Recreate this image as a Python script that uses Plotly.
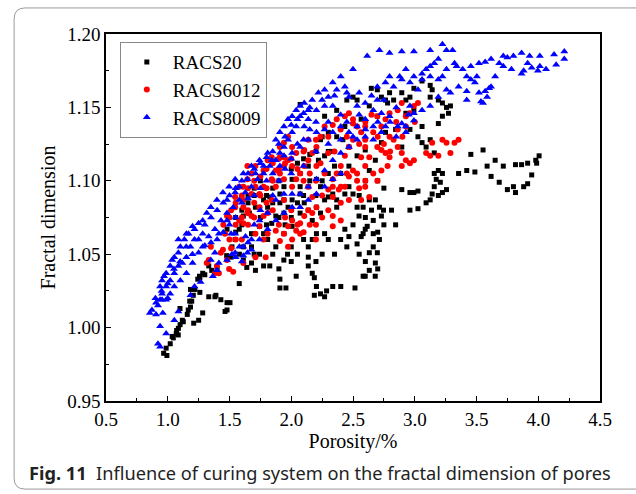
import plotly.graph_objects as go

# porosity (%) , fractal dimension
racs20 = [
    (0.967, 0.9825), (0.993, 0.981), (0.987, 0.986), (1.02, 0.989), (1.036, 0.994), (1.069, 0.996),
    (1.086, 0.9995), (1.10, 1.002), (1.118, 1.005), (1.158, 1.009), (1.184, 1.014), (1.178, 1.018),
    (1.21, 1.003), (1.25, 1.005), (1.283, 1.01), (1.257, 1.035), (1.283, 1.037), (1.332, 1.021),
    (1.382, 1.021), (1.43, 1.019), (1.48, 1.017), (1.48, 1.012), (1.464, 1.011), (1.579, 1.03),
    (1.184, 1.026), (1.243, 1.033), (1.332, 1.042), (1.045, 0.993), (1.085, 0.995), (1.072, 0.998),
    (1.126, 1.004), (1.166, 1.012), (1.194, 1.018), (1.207, 1.022), (1.22, 1.026), (1.26, 1.024),
    (1.26, 1.034), (1.30, 1.036), (1.356, 1.039), (1.40, 1.04), (1.477, 1.049), (1.64, 1.041),
    (1.099, 1.013), (1.504, 1.017), (1.39, 1.022),
    (1.612, 1.055), (1.678, 1.044), (1.71, 1.039), (1.776, 1.042), (1.826, 1.042), (1.908, 1.033),
    (1.908, 1.027), (1.957, 1.027), (2.04, 1.035), (1.94, 1.046), (1.97, 1.05), (2.0, 1.055),
    (2.138, 1.055), (2.17, 1.06), (2.204, 1.064), (2.27, 1.064), (2.138, 1.048), (2.138, 1.042),
    (2.17, 1.037), (2.187, 1.034), (2.204, 1.028), (2.187, 1.022), (2.237, 1.023), (2.27, 1.021),
    (2.286, 1.025), (2.336, 1.028), (2.401, 1.028), (2.516, 1.027), (2.582, 1.035), (2.632, 1.039),
    (2.681, 1.044), (2.697, 1.051), (2.714, 1.06), (2.664, 1.064), (2.599, 1.067), (2.566, 1.062),
    (2.533, 1.057), (2.549, 1.076), (2.582, 1.082), (2.632, 1.087), (2.681, 1.087), (2.714, 1.082),
    (2.747, 1.08), (2.73, 1.076), (2.664, 1.073), (2.615, 1.069), (2.664, 1.055), (2.632, 1.051),
    (2.582, 1.064), (2.533, 1.082), (2.5, 1.091), (2.467, 1.096), (2.434, 1.091), (2.368, 1.087),
    (2.27, 1.087), (2.237, 1.096), (2.204, 1.101), (2.138, 1.096), (2.072, 1.096), (2.072, 1.091),
    (2.007, 1.087), (1.974, 1.082), (1.941, 1.078), (1.875, 1.076), (1.842, 1.071), (1.776, 1.064),
    (1.743, 1.069), (1.678, 1.064), (1.661, 1.078), (1.71, 1.082), (1.776, 1.087), (1.826, 1.089),
    (1.908, 1.091), (1.941, 1.096), (2.007, 1.101), (2.072, 1.105), (2.138, 1.11), (2.22, 1.114),
    (2.27, 1.117), (2.336, 1.12), (1.612, 1.076), (1.579, 1.067), (1.546, 1.06), (1.513, 1.048),
    (1.612, 1.046), (1.743, 1.05), (1.875, 1.055), (1.941, 1.064), (2.007, 1.069), (2.072, 1.078),
    (2.105, 1.085), (1.809, 1.06), (1.678, 1.055), (1.48, 1.067), (1.809, 1.082), (1.908, 1.085),
    (1.941, 1.087), (2.138, 1.08), (2.204, 1.082), (2.17, 1.073), (2.237, 1.078), (2.30, 1.089),
    (2.336, 1.091), (2.599, 1.035), (2.434, 1.067), (2.467, 1.062), (2.368, 1.082),
    (1.55, 1.065), (1.60, 1.07), (1.65, 1.085), (1.70, 1.09), (1.75, 1.075), (1.80, 1.07),
    (1.85, 1.085), (1.90, 1.075), (1.95, 1.07), (2.00, 1.075), (2.05, 1.085), (2.10, 1.09),
    (2.15, 1.10), (2.20, 1.09), (2.25, 1.10), (2.30, 1.105), (2.35, 1.11), (2.40, 1.105),
    (2.30, 1.12), (2.25, 1.13), (2.20, 1.12), (2.15, 1.118), (2.10, 1.115), (2.05, 1.112),
    (2.00, 1.108), (1.90, 1.10), (1.85, 1.095), (1.80, 1.09), (1.75, 1.10), (1.70, 1.095),
    (1.65, 1.09), (1.60, 1.08), (1.55, 1.075), (1.52, 1.055), (1.58, 1.05), (1.70, 1.05),
    (1.85, 1.05), (1.90, 1.04), (2.00, 1.045), (2.05, 1.05), (2.10, 1.06), (2.20, 1.045),
    (2.25, 1.05), (2.30, 1.06), (2.35, 1.05), (2.45, 1.055), (2.40, 1.06), (2.50, 1.07),
    (2.55, 1.09), (2.60, 1.10), (2.70, 1.10), (2.75, 1.095), (2.70, 1.065), (2.75, 1.07),
    (2.60, 1.075), (2.65, 1.08), (2.55, 1.05), (2.60, 1.045), (2.70, 1.04), (2.68, 1.035),
    (2.072, 1.152), (2.27, 1.144), (2.368, 1.148), (2.45, 1.155), (2.5, 1.157), (2.533, 1.155),
    (2.632, 1.151), (2.648, 1.163), (2.697, 1.162), (2.73, 1.157), (2.763, 1.155), (2.796, 1.16),
    (2.78, 1.153), (2.829, 1.155), (2.895, 1.16), (2.928, 1.155), (2.961, 1.157), (2.993, 1.163),
    (3.059, 1.168), (3.125, 1.165), (3.141, 1.162), (3.191, 1.155), (3.224, 1.153), (3.257, 1.15),
    (3.289, 1.151), (3.273, 1.146), (3.191, 1.139), (3.224, 1.144), (3.059, 1.137), (3.026, 1.13),
    (3.092, 1.123), (3.125, 1.128), (3.059, 1.126), (3.158, 1.119), (2.961, 1.135), (2.895, 1.123),
    (2.845, 1.135), (2.763, 1.133), (2.73, 1.126), (2.681, 1.114), (2.632, 1.107), (2.599, 1.121),
    (2.533, 1.117), (2.467, 1.11), (2.467, 1.123), (2.418, 1.128), (2.368, 1.13), (2.30, 1.133),
    (2.237, 1.128), (2.434, 1.137), (2.566, 1.142), (2.697, 1.144), (2.928, 1.146), (2.993, 1.148),
    (3.125, 1.157),
    (2.845, 1.07), (2.812, 1.08), (2.895, 1.094), (2.961, 1.092), (2.993, 1.092), (3.026, 1.093),
    (2.961, 1.08), (3.026, 1.081), (3.092, 1.085), (3.125, 1.087), (3.141, 1.091), (3.158, 1.096),
    (3.174, 1.101), (3.158, 1.105), (3.191, 1.107), (3.224, 1.105), (3.207, 1.099), (3.257, 1.094),
    (3.191, 1.09), (3.224, 1.092),
    (3.355, 1.105), (3.421, 1.107), (3.487, 1.106), (3.454, 1.118), (3.553, 1.121), (3.586, 1.11),
    (3.618, 1.103), (3.651, 1.114), (3.717, 1.11), (3.684, 1.099), (3.75, 1.094), (3.816, 1.092),
    (3.799, 1.096), (3.816, 1.111), (3.865, 1.111), (3.914, 1.112), (3.947, 1.104), (3.914, 1.098),
    (3.882, 1.096), (3.98, 1.114), (4.007, 1.117), (3.987, 1.112),
]

racs6012 = [
    (1.316, 1.044), (1.332, 1.046), (1.349, 1.055), (1.382, 1.037), (1.414, 1.037), (1.497, 1.04),
    (1.53, 1.038), (1.612, 1.044), (1.71, 1.048), (1.793, 1.048), (1.447, 1.053), (1.513, 1.054),
    (1.464, 1.064), (1.48, 1.076), (1.513, 1.08), (1.546, 1.082), (1.579, 1.073), (1.612, 1.087),
    (1.612, 1.096), (1.645, 1.101), (1.678, 1.105), (1.71, 1.096), (1.743, 1.091), (1.776, 1.096),
    (1.743, 1.082), (1.776, 1.076), (1.809, 1.078), (1.842, 1.087), (1.875, 1.096), (1.908, 1.105),
    (1.941, 1.11), (1.974, 1.114), (1.908, 1.116), (1.842, 1.116), (1.809, 1.114), (1.776, 1.107),
    (1.71, 1.11), (1.645, 1.11), (1.678, 1.091), (1.612, 1.082), (1.546, 1.089), (1.579, 1.096),
    (1.875, 1.066), (1.908, 1.059), (1.941, 1.064), (1.974, 1.069), (2.007, 1.073), (2.04, 1.066),
    (2.072, 1.071), (2.105, 1.076), (2.138, 1.08), (2.17, 1.078), (2.204, 1.082), (2.072, 1.064),
    (2.007, 1.06), (1.974, 1.055), (1.941, 1.087), (2.007, 1.096), (2.04, 1.101), (2.072, 1.105),
    (2.105, 1.11), (2.138, 1.114), (2.17, 1.119), (2.204, 1.123), (2.237, 1.13), (2.27, 1.137),
    (2.336, 1.138), (2.368, 1.142), (2.434, 1.144), (2.467, 1.146), (2.5, 1.142), (2.533, 1.137),
    (2.566, 1.133), (2.599, 1.128), (2.5, 1.128), (2.467, 1.123), (2.434, 1.117), (2.401, 1.11),
    (2.368, 1.105), (2.336, 1.101), (2.30, 1.094), (2.336, 1.089), (2.385, 1.094), (2.434, 1.096),
    (2.467, 1.103), (2.5, 1.107), (2.566, 1.116), (2.599, 1.11), (2.632, 1.116), (2.697, 1.123),
    (2.73, 1.121), (2.763, 1.119), (2.796, 1.116), (2.73, 1.107), (2.78, 1.11), (2.697, 1.10),
    (2.664, 1.105), (2.599, 1.137), (2.664, 1.133), (2.73, 1.137), (2.763, 1.142), (2.796, 1.146),
    (2.862, 1.148), (2.895, 1.153), (2.928, 1.144), (2.961, 1.146), (2.993, 1.151), (3.026, 1.153),
    (2.928, 1.137), (2.862, 1.135), (2.829, 1.128), (2.895, 1.11), (2.993, 1.114), (3.092, 1.119),
    (3.141, 1.126), (3.191, 1.117), (3.224, 1.128), (3.257, 1.126), (3.289, 1.119), (3.322, 1.126),
    (3.355, 1.128), (3.125, 1.117), (2.336, 1.076), (2.401, 1.073), (2.336, 1.069), (2.401, 1.096),
    (2.30, 1.119), (2.27, 1.105), (2.237, 1.112), (2.138, 1.096), (2.17, 1.089), (2.533, 1.105),
    (2.533, 1.10), (2.599, 1.096), (2.632, 1.089), (2.566, 1.087), (2.467, 1.087), (2.401, 1.085),
    (2.336, 1.096), (2.5, 1.139), (2.599, 1.123), (2.697, 1.144), (2.796, 1.13), (2.862, 1.123),
    (2.895, 1.119), (2.928, 1.114), (2.961, 1.112), (1.48, 1.046), (1.43, 1.051), (1.398, 1.042),
    (1.809, 1.064), (1.776, 1.06), (1.743, 1.069), (1.71, 1.064), (1.678, 1.076), (1.645, 1.078),
    (1.612, 1.071), (1.842, 1.101), (1.875, 1.107), (1.941, 1.101), (1.941, 1.116), (2.007, 1.11),
    (2.04, 1.119), (2.105, 1.121), (2.007, 1.123), (1.941, 1.126), (1.974, 1.13), (1.908, 1.123),
    (2.138, 1.128), (2.204, 1.11),
    (1.55, 1.07), (1.60, 1.075), (1.65, 1.08), (1.70, 1.085), (1.75, 1.09), (1.80, 1.095),
    (1.85, 1.10), (1.90, 1.108), (1.95, 1.112), (2.00, 1.115), (2.05, 1.108), (2.10, 1.10),
    (2.15, 1.105), (2.20, 1.10), (2.25, 1.09), (2.20, 1.07), (2.10, 1.065), (2.05, 1.07),
    (2.15, 1.07), (2.25, 1.075), (2.00, 1.08), (1.95, 1.075), (1.90, 1.07), (1.85, 1.08),
    (1.80, 1.085), (1.70, 1.075), (1.65, 1.07), (1.60, 1.06), (1.55, 1.06), (1.50, 1.06),
    (1.45, 1.07), (1.50, 1.075), (1.55, 1.085), (1.60, 1.09), (1.65, 1.095), (1.70, 1.10),
    (1.75, 1.103), (1.80, 1.108), (1.85, 1.112), (1.90, 1.115), (2.10, 1.12), (2.20, 1.128),
    (2.30, 1.13), (2.40, 1.135), (2.45, 1.13), (2.55, 1.125), (2.60, 1.14), (2.65, 1.145),
    (2.70, 1.13), (2.75, 1.125), (2.80, 1.12), (2.85, 1.14), (2.90, 1.13), (3.00, 1.14),
    (2.35, 1.12), (2.45, 1.105), (2.55, 1.095), (2.60, 1.10), (2.30, 1.08), (2.20, 1.06),
]

racs8009 = [
    (0.855, 1.01), (0.872, 1.012), (0.905, 1.017), (0.938, 1.019), (0.954, 1.023), (0.938, 1.028),
    (0.954, 1.032), (0.97, 1.035), (0.987, 1.037), (1.02, 1.042), (1.036, 1.046), (1.053, 1.048),
    (1.086, 1.051), (1.102, 1.055), (1.135, 1.06), (1.168, 1.064), (1.201, 1.069), (1.25, 1.071),
    (1.283, 1.073), (1.316, 1.078), (1.349, 1.082), (1.398, 1.087), (1.447, 1.092), (1.497, 1.096),
    (1.546, 1.101), (1.612, 1.105), (1.678, 1.11), (1.743, 1.114), (1.809, 1.119), (1.875, 1.128),
    (1.908, 1.133), (1.941, 1.137), (1.974, 1.142), (2.007, 1.144), (2.04, 1.148), (2.072, 1.151),
    (2.105, 1.153), (2.138, 1.148), (2.17, 1.155), (2.22, 1.16), (2.27, 1.162), (2.336, 1.167),
    (2.401, 1.171), (2.5, 1.176), (2.615, 1.185), (2.714, 1.189), (2.796, 1.187), (2.895, 1.188),
    (2.993, 1.188), (3.125, 1.189), (3.224, 1.193), (3.257, 1.189), (3.306, 1.189), (3.191, 1.183),
    (3.158, 1.18), (3.125, 1.178), (3.092, 1.176), (3.059, 1.173), (3.339, 1.178), (3.388, 1.176),
    (3.454, 1.178), (3.52, 1.18), (3.57, 1.181), (3.618, 1.183), (3.684, 1.18), (3.75, 1.184),
    (3.799, 1.185), (3.865, 1.187), (3.93, 1.185), (4.013, 1.185), (4.128, 1.186), (4.211, 1.188),
    (4.211, 1.183), (4.145, 1.179), (4.063, 1.176), (3.997, 1.175), (3.947, 1.177), (3.865, 1.173),
    (3.783, 1.176), (3.717, 1.178), (3.651, 1.171), (3.618, 1.164), (3.57, 1.161), (3.536, 1.154),
    (3.487, 1.167), (3.503, 1.171), (3.454, 1.169), (3.421, 1.161), (3.355, 1.164), (3.289, 1.16),
    (3.224, 1.171), (3.191, 1.169), (3.125, 1.171), (3.059, 1.169), (2.993, 1.171), (2.928, 1.176),
    (2.895, 1.169), (2.829, 1.164), (2.763, 1.167), (2.697, 1.164), (2.796, 1.171), (2.878, 1.171),
    (2.961, 1.167), (3.026, 1.162), (2.961, 1.151), (2.993, 1.146), (2.895, 1.139), (2.928, 1.133),
    (2.862, 1.137), (2.796, 1.144), (2.73, 1.146), (2.664, 1.148), (2.697, 1.155), (2.599, 1.153),
    (2.533, 1.151), (2.467, 1.157), (2.434, 1.164), (2.368, 1.162), (2.30, 1.157), (2.27, 1.151),
    (2.336, 1.151), (2.204, 1.148), (2.138, 1.142), (2.105, 1.137), (2.072, 1.144), (2.04, 1.137),
    (2.007, 1.133), (1.974, 1.128), (1.941, 1.123), (1.908, 1.119), (1.875, 1.114), (1.826, 1.11),
    (1.776, 1.105), (1.727, 1.101), (1.678, 1.096), (1.628, 1.092), (1.579, 1.087), (1.53, 1.082),
    (1.48, 1.078), (1.431, 1.073), (1.382, 1.067), (1.332, 1.062), (1.283, 1.055), (1.25, 1.051),
    (1.201, 1.044), (1.151, 1.037), (1.102, 1.032), (1.053, 1.028), (1.02, 1.023), (0.987, 1.019),
    (0.938, 1.001), (0.921, 0.989), (0.938, 0.987), (0.987, 0.996), (1.053, 1.005), (1.086, 1.011),
    (1.184, 1.022), (1.217, 1.028), (1.266, 1.031), (1.365, 1.035), (1.398, 1.039), (1.48, 1.046),
    (1.546, 1.051), (1.612, 1.049), (1.678, 1.053), (1.743, 1.06), (1.809, 1.067), (1.875, 1.073),
    (1.941, 1.078), (2.007, 1.082), (2.072, 1.091), (2.138, 1.096), (2.204, 1.101), (2.27, 1.107),
    (2.336, 1.114), (2.401, 1.119), (2.467, 1.123), (2.533, 1.128), (2.599, 1.13), (2.664, 1.128),
    (2.73, 1.133), (2.763, 1.137), (2.928, 1.137), (2.993, 1.141), (3.059, 1.148), (3.125, 1.151),
    (3.191, 1.157), (3.257, 1.162), (3.421, 1.155), (3.553, 1.153), (3.586, 1.157), (3.602, 1.163),
    (3.52, 1.16), (3.257, 1.176), (3.322, 1.18), (3.421, 1.171), (3.882, 1.175), (3.914, 1.18),
    (4.013, 1.178), (3.717, 1.185),
    (1.48, 1.087), (1.546, 1.092), (1.579, 1.096), (1.645, 1.101), (1.71, 1.105), (1.776, 1.11),
    (1.842, 1.114), (1.908, 1.11), (1.941, 1.117), (2.007, 1.119), (2.072, 1.123), (2.138, 1.128),
    (2.204, 1.133), (2.27, 1.135), (2.336, 1.133), (2.401, 1.137), (2.467, 1.133), (2.533, 1.137),
    (2.599, 1.142), (2.664, 1.137), (1.546, 1.064), (1.612, 1.055), (1.645, 1.051), (1.678, 1.06),
    (1.743, 1.073), (1.809, 1.078), (1.875, 1.087), (1.941, 1.091), (2.007, 1.091), (2.072, 1.082),
    (2.138, 1.087), (2.204, 1.091), (2.27, 1.096), (2.336, 1.101), (2.401, 1.105), (1.48, 1.073),
    (1.513, 1.064), (1.414, 1.064), (1.382, 1.051), (1.414, 1.044), (1.349, 1.046), (1.283, 1.064),
    (1.217, 1.06), (1.184, 1.055), (1.151, 1.048), (1.118, 1.044), (1.086, 1.042), (1.053, 1.037),
    (1.02, 1.032), (0.987, 1.028), (0.954, 1.019), (0.921, 1.015), (0.905, 1.009), (1.086, 1.06),
    (1.151, 1.064), (1.217, 1.067),
    (1.30, 1.07), (1.35, 1.075), (1.40, 1.08), (1.45, 1.085), (1.50, 1.09), (1.55, 1.095),
    (1.60, 1.10), (1.65, 1.105), (1.70, 1.108), (1.75, 1.112), (1.80, 1.116), (1.85, 1.12),
    (1.90, 1.125), (1.95, 1.13), (2.00, 1.138), (2.05, 1.142), (2.10, 1.146), (2.15, 1.15),
    (2.25, 1.155), (2.35, 1.158), (2.45, 1.16), (2.55, 1.16), (2.65, 1.158), (2.75, 1.155),
    (2.85, 1.15), (2.95, 1.145), (2.55, 1.145), (2.60, 1.135), (2.70, 1.14), (2.80, 1.14),
    (2.85, 1.13), (2.50, 1.13), (2.45, 1.14), (2.40, 1.145), (2.30, 1.14), (2.20, 1.14),
    (2.15, 1.135), (2.10, 1.128), (2.05, 1.125), (2.00, 1.115), (1.95, 1.108), (1.85, 1.105),
    (1.80, 1.10), (1.75, 1.095), (1.70, 1.09), (1.65, 1.088), (1.60, 1.085), (1.55, 1.075),
    (1.50, 1.07), (1.45, 1.065), (1.40, 1.06), (1.35, 1.058), (1.30, 1.056), (1.25, 1.06),
    (1.20, 1.05), (1.15, 1.055), (1.10, 1.045), (1.05, 1.04), (1.00, 1.03), (0.95, 1.025),
    (0.90, 1.02), (0.96, 1.01), (1.00, 1.02), (1.63, 1.062), (1.70, 1.07), (1.75, 1.08),
    (1.85, 1.09), (1.90, 1.10), (2.00, 1.105), (2.10, 1.11), (2.20, 1.12), (2.30, 1.125),
    (2.40, 1.128), (1.65, 1.058), (1.58, 1.055), (1.52, 1.05), (1.55, 1.048), (1.60, 1.045),
]

series_names = ["RACS20", "RACS6012", "RACS8009"]
x_ticks = [0.5, 1.0, 1.5, 2.0, 2.5, 3.0, 3.5, 4.0, 4.5]
y_ticks = [0.95, 1.00, 1.05, 1.10, 1.15, 1.20]

serif = "Liberation Serif, Times New Roman, serif"

fig = go.Figure()
styles = [
    dict(symbol="square", color="black", size=5),
    dict(symbol="circle", color="red", size=6),
    dict(symbol="triangle-up", color="blue", size=7),
]
for name, pts, st in zip(series_names, [racs20, racs6012, racs8009], styles):
    xs = [p[0] for p in pts]
    ys = [p[1] for p in pts]
    fig.add_trace(go.Scatter(x=xs, y=ys, mode="markers", name=name,
                             marker=dict(symbol=st["symbol"], color=st["color"], size=st["size"],
                                         line=dict(width=0))))

axis_common = dict(
    showline=True, linecolor="black", linewidth=1.5, mirror=True,
    ticks="inside", ticklen=5, tickwidth=1.2, tickcolor="black",
    showgrid=False, zeroline=False,
    tickfont=dict(family=serif, size=19, color="black"),
)

fig.update_xaxes(range=[0.5, 4.5], tickvals=x_ticks, ticktext=[f"{v:.1f}" for v in x_ticks],
                 minor=dict(ticks="inside", ticklen=3, dtick=0.25, tick0=0.5, tickcolor="black"),
                 title=dict(text="Porosity/%", font=dict(family=serif, size=20, color="black"), standoff=4),
                 **axis_common)
fig.update_yaxes(range=[0.95, 1.20], tickvals=y_ticks, ticktext=[f"{v:.2f}" for v in y_ticks],
                 minor=dict(ticks="inside", ticklen=3, dtick=0.025, tick0=0.95, tickcolor="black"),
                 title=dict(text="Fractal dimension", font=dict(family=serif, size=20, color="black"), standoff=6),
                 **axis_common)

# rounded frame around the figure panel (paper coords)
x0, x1, y0, y1 = -0.186, 1.12, -0.24, 1.071
rx, ry = 0.022, 0.03
frame = (f"M {x1},{y1} L {x0 + rx},{y1} Q {x0},{y1} {x0},{y1 - ry} "
         f"L {x0},{y0 + ry} Q {x0},{y0} {x0 + rx},{y0} L {x1},{y0}")

fig.update_layout(
    width=636, height=494,
    margin=dict(l=106, r=36, t=34, b=93),
    paper_bgcolor="white", plot_bgcolor="white",
    showlegend=True,
    legend=dict(x=0.028, y=0.978, xanchor="left", yanchor="top",
                bordercolor="#888888", borderwidth=1, bgcolor="white",
                font=dict(family=serif, size=19, color="black"),
                tracegroupgap=0, itemsizing="trace", itemwidth=42),
    shapes=[dict(type="path", path=frame, xref="paper", yref="paper",
                 line=dict(color="#9a9a9a", width=1))],
    annotations=[dict(x=-0.16, y=-0.196, xref="paper", yref="paper", xanchor="left", yanchor="middle",
                      showarrow=False,
                      text="<b>Fig. 11</b>  Influence of curing system on the fractal dimension of pores",
                      font=dict(family="Noto Sans, Open Sans, sans-serif", size=18.2, color="#222222"))],
)

fig.write_html("out.html", config={"displayModeBar": False},
               post_script="document.body.style.margin='0';")
